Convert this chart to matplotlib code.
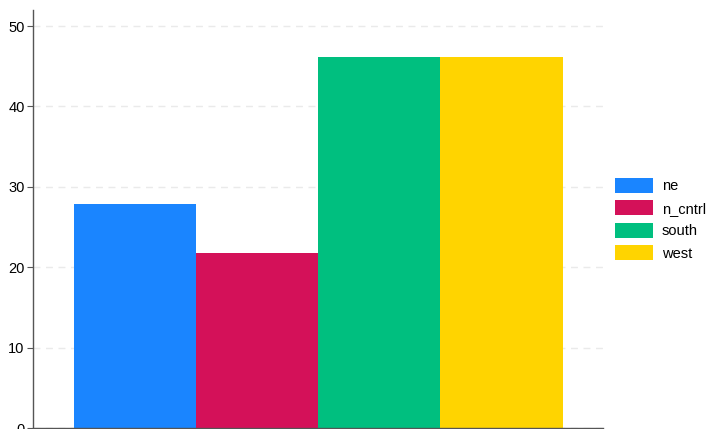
import matplotlib.pyplot as plt
from matplotlib.patches import Patch

plt.rcParams['font.family'] = ['Liberation Sans', 'DejaVu Sans']

regions = ['ne', 'n_cntrl', 'south', 'west']
values = [27.9, 21.8, 46.1, 46.1]
colors = ['#1a85ff', '#d41159', '#00bf7f', '#ffd400']

fig = plt.figure(figsize=(7.09, 4.29), dpi=100)
ax = fig.add_axes([33 / 709, 1 / 429, 570 / 709, 418 / 429])

x = range(len(regions))
ax.bar(x, values, width=1.0, color=colors, zorder=2)
ax.set_xlim(-0.5 - 0.335, len(regions) - 0.5 + 0.33)
ax.set_ylim(0, 52)
ax.set_yticks([0, 10, 20, 30, 40, 50])
ax.set_xticks([])
ax.yaxis.grid(True, color='#eaeaea', linestyle=(0, (5, 4)), linewidth=1, zorder=0)
for s in ['top', 'right']:
    ax.spines[s].set_visible(False)
for s in ['left', 'bottom']:
    ax.spines[s].set_color('#555555')
    ax.spines[s].set_linewidth(1)
ax.tick_params(axis='y', length=4, color='#555555', labelsize=10.5, pad=2)

handles = [Patch(facecolor=c) for c in colors]
fig.legend(handles, regions, loc='center left', bbox_to_anchor=(615 / 709, 0.489),
           frameon=False, fontsize=10.5, handlelength=2.6, handleheight=1.2,
           handletextpad=0.6, labelspacing=0.48, borderpad=0, borderaxespad=0)

fig.savefig('out.png', dpi=100)
